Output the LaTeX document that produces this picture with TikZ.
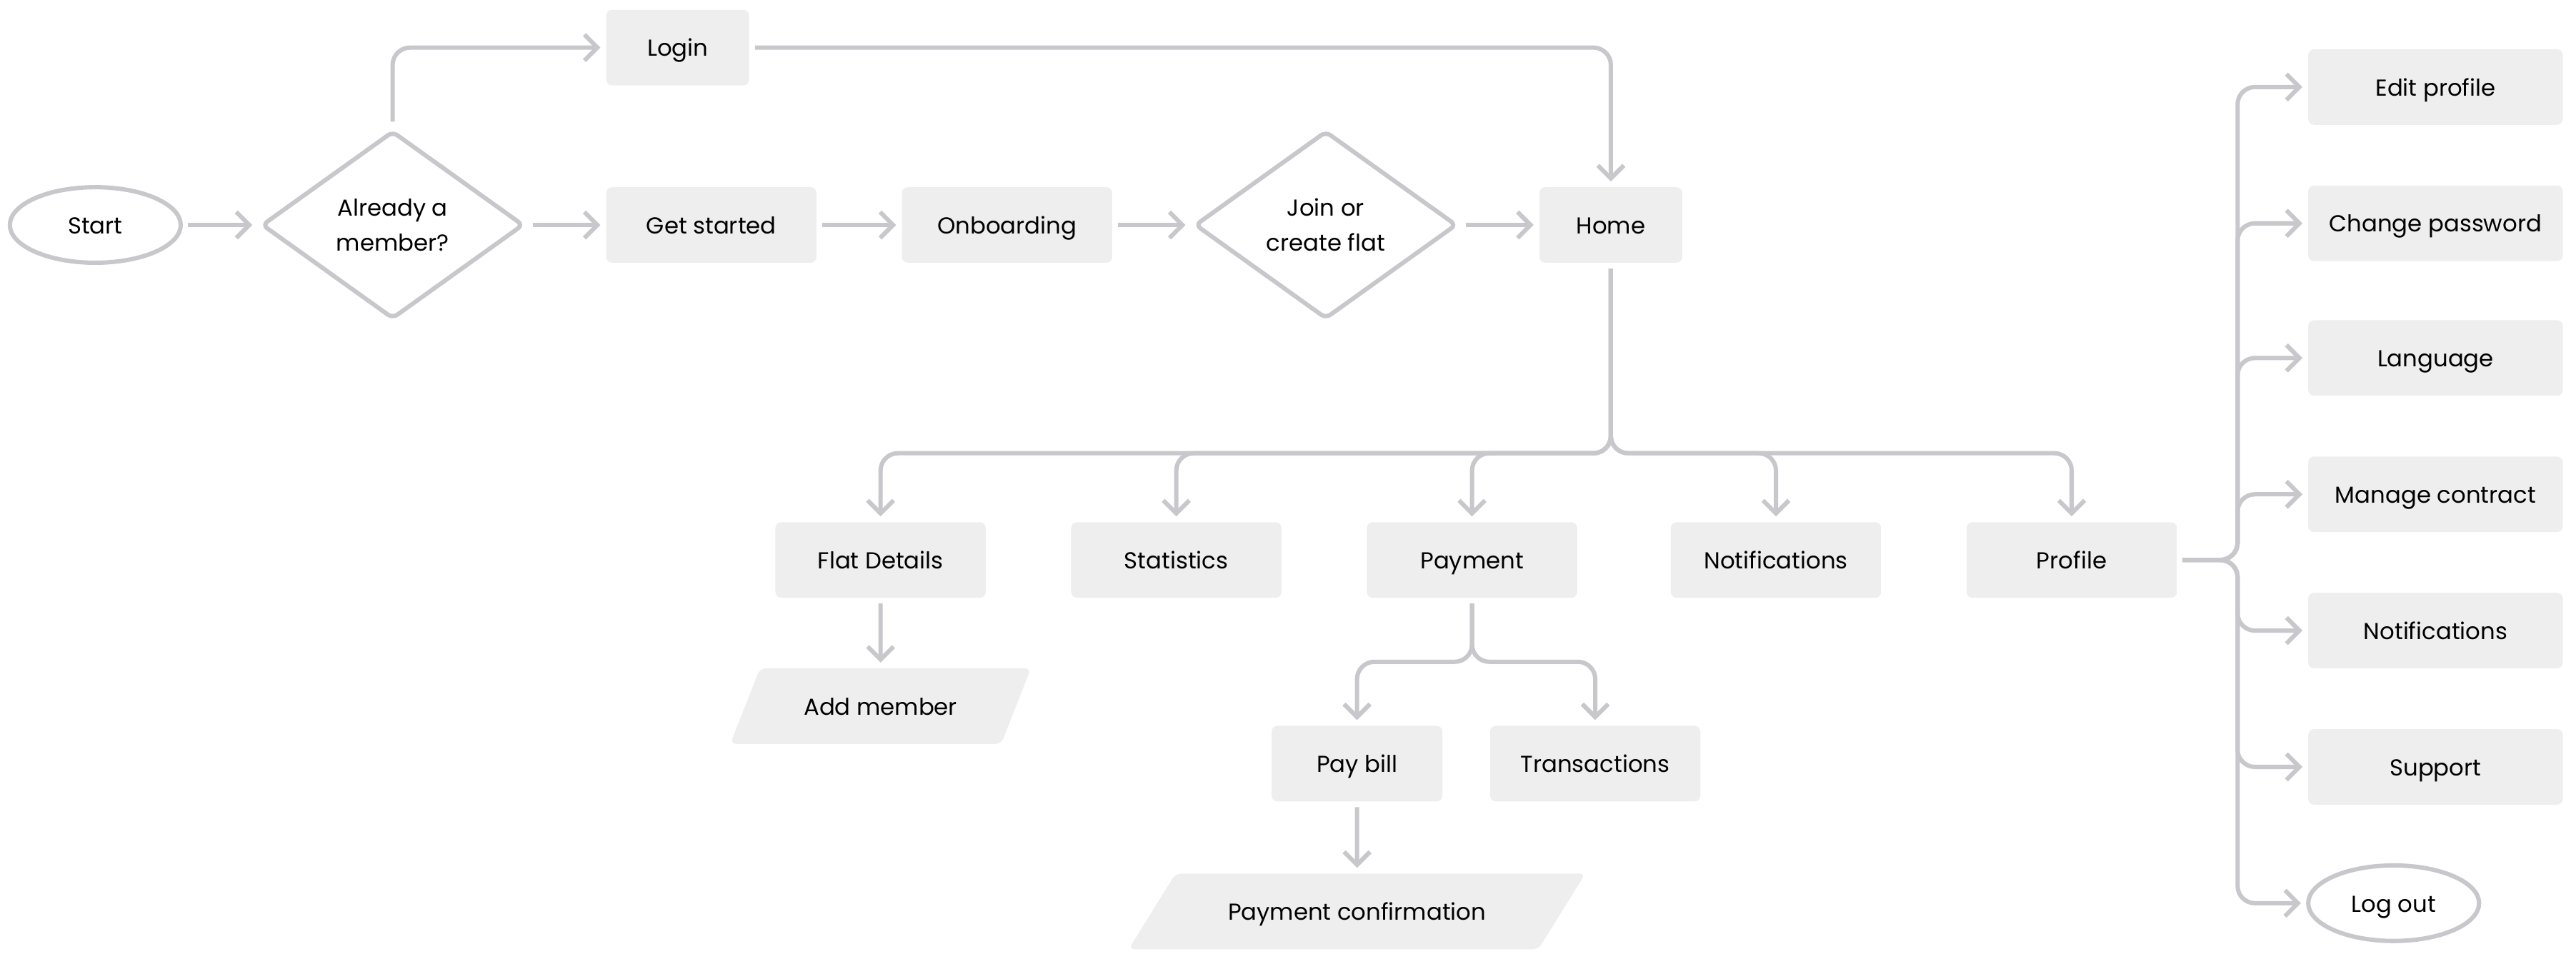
\documentclass[tikz,border=0pt]{standalone}
\usepackage{fontspec}
\setmainfont{Poppins}
\usetikzlibrary{shapes.geometric, arrows.meta, positioning, calc}
\definecolor{linegray}{RGB}{200,200,204}
\definecolor{boxgray}{RGB}{238,238,238}

\begin{document}
\begin{tikzpicture}[x=0.2mm, y=-0.2mm,
	font=\fontsize{8}{12}\selectfont,
	box/.style={shape=rectangle, fill=boxgray, rounded corners=2pt, minimum width=25.6mm, minimum height=9.2mm, text height=1.1ex, text depth=0pt, outer sep=2pt},
	term/.style={shape=ellipse, draw=linegray, line width=1.5pt, minimum width=20.8mm, minimum height=9.2mm, text height=1.1ex, text depth=0pt, outer sep=2.5pt},
	choice/.style={shape=diamond, shape aspect=1.4, inner sep=0pt, draw=linegray, line width=1.5pt, rounded corners=2pt, minimum width=32.4mm, minimum height=23.4mm, align=center, outer sep=2.5pt},
	io/.style={shape=trapezium, trapezium stretches body, fill=boxgray, rounded corners=2pt, minimum height=9.2mm, text height=1.1ex, text depth=0pt, outer sep=2pt},
	conn/.style={draw=linegray, line width=1.5pt, rounded corners=6pt, -{Straight Barb[length=4.5pt, width=9pt]}}]
	\useasboundingbox (0, 0) rectangle (1568, 583.6);

	\node[term] (start) at (58, 137) {Start};
	\node[choice] (member) at (239, 137) {Already a\\member?};
	\node[box, minimum width=17.4mm] (login) at (412.5, 29) {Login};
	\node[box] (started) at (433, 137) {Get started};
	\node[box] (onboard) at (613, 137) {Onboarding};
	\node[choice] (joinflat) at (807, 137) {Join or\\create flat};
	\node[box, minimum width=17.4mm] (home) at (980.5, 137) {Home};

	\node[box] (details) at (536, 341) {Flat Details};
	\node[box] (stats) at (716, 341) {Statistics};
	\node[box] (payment) at (896, 341) {Payment};
	\node[box] (notif) at (1081, 341) {Notifications};
	\node[box] (profile) at (1261, 341) {Profile};

	\node[io, minimum width=36.6mm, trapezium left angle=51, trapezium right angle=129] (addmember) at (536, 430) {Add member};
	\node[box, minimum width=20.8mm] (paybill) at (826, 465) {Pay bill};
	\node[box] (trans) at (971, 465) {Transactions};
	\node[io, minimum width=55.6mm, trapezium left angle=38, trapezium right angle=142] (confirm) at (826, 555) {Payment confirmation};

	\node[box, minimum width=31mm] (edit) at (1482.5, 53) {Edit profile};
	\node[box, minimum width=31mm] (password) at (1482.5, 136) {Change password};
	\node[box, minimum width=31mm] (language) at (1482.5, 218) {Language};
	\node[box, minimum width=31mm] (contract) at (1482.5, 301) {Manage contract};
	\node[box, minimum width=31mm] (pnotif) at (1482.5, 384) {Notifications};
	\node[box, minimum width=31mm] (support) at (1482.5, 467) {Support};
	\node[term] (logout) at (1457, 550) {Log out};

	\coordinate (homesplit) at (980.5, 276);
	\coordinate (paysplit) at (896, 403);
	\coordinate (profsplit) at (1362, 341);

	\draw[conn] (start) -- (member);
	\draw[conn] (member) |- (login);
	\draw[conn] (member) -- (started);
	\draw[conn] (started) -- (onboard);
	\draw[conn] (onboard) -- (joinflat);
	\draw[conn] (joinflat) -- (home);
	\draw[conn] (login) -| (home);

	\draw[conn] (home) -- (homesplit) -| (details);
	\draw[conn] (home) -- (homesplit) -| (stats);
	\draw[conn] (home) -- (homesplit) -| (payment);
	\draw[conn] (home) -- (homesplit) -| (notif);
	\draw[conn] (home) -- (homesplit) -| (profile);

	\draw[conn] (details) -- (addmember);
	\draw[conn] (payment) -- (paysplit) -| (paybill);
	\draw[conn] (payment) -- (paysplit) -| (trans);
	\draw[conn] (paybill) -- (confirm);

	\draw[conn] (profile) -- (profsplit) |- (edit);
	\draw[conn] (profile) -- (profsplit) |- (password);
	\draw[conn] (profile) -- (profsplit) |- (language);
	\draw[conn] (profile) -- (profsplit) |- (contract);
	\draw[conn] (profile) -- (profsplit) |- (pnotif);
	\draw[conn] (profile) -- (profsplit) |- (support);
	\draw[conn] (profile) -- (profsplit) |- (logout);
\end{tikzpicture}
\end{document}
